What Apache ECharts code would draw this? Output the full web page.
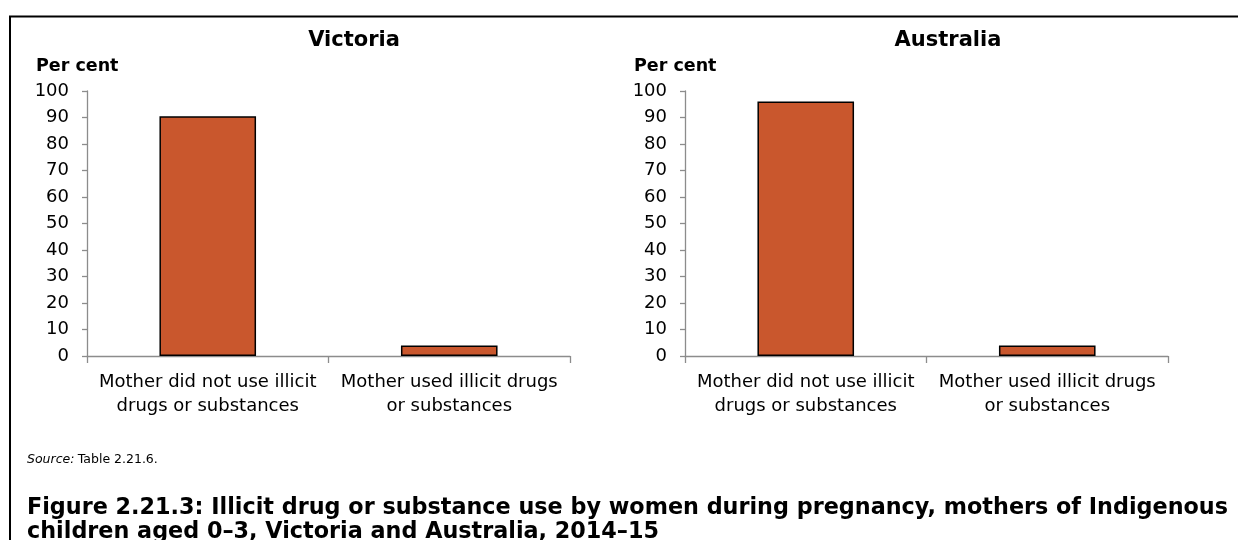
<!DOCTYPE html>
<html>
<head>
<meta charset="utf-8">
<script src="https://cdn.jsdelivr.net/npm/echarts@6/dist/echarts.min.js"></script>
<style>html,body{margin:0;padding:0;background:#fff}#c{width:1238px;height:540px}</style>
</head>
<body>
<div id="c"></div>
<script>
var categories = ['Mother did not use illicit\ndrugs or substances', 'Mother used illicit drugs\nor substances'];
var victoriaValues = [90.5, 4];
var australiaValues = [96, 4];
var panelTitles = ['Victoria', 'Australia'];
var yTicks = {min: 0, max: 100, interval: 10};
var yAxisName = 'Per cent';
var sourceLabel = 'Source:';
var sourceText = 'Table 2.21.6.';
var captionLines = ['Figure 2.21.3: Illicit drug or substance use by women during pregnancy, mothers of Indigenous', 'children aged 0\u20133, Victoria and Australia, 2014\u201315'];

var FONT = '"DejaVu Sans", "Liberation Sans", Arial, sans-serif';
var axisGray = '#8c8c8c';
var barColor = '#C9572D';

function xAxis(gi) {
  return {
    type: 'category', gridIndex: gi, data: categories,
    axisLine: {lineStyle: {color: axisGray, width: 1.3}},
    axisTick: {show: true, length: 7, lineStyle: {color: axisGray, width: 1.3}},
    axisLabel: {color: '#000', fontFamily: FONT, fontSize: 18, lineHeight: 24, margin: 14, interval: 0}
  };
}
function yAxis(gi) {
  return {
    type: 'value', gridIndex: gi, min: yTicks.min, max: yTicks.max, interval: yTicks.interval,
    axisLine: {show: true, lineStyle: {color: axisGray, width: 1.3}},
    axisTick: {show: true, length: 5, lineStyle: {color: axisGray, width: 1.3}},
    splitLine: {show: false},
    axisLabel: {color: '#000', fontFamily: FONT, fontSize: 18, margin: 18}
  };
}
function barSeries(i, vals) {
  return {
    type: 'bar', xAxisIndex: i, yAxisIndex: i, data: vals, barWidth: '40%',
    itemStyle: {color: barColor, borderColor: '#000', borderWidth: 1.5},
    silent: true
  };
}

var chart = echarts.init(document.getElementById('c'), null, {renderer: 'canvas'});
chart.setOption({
  animation: false,
  backgroundColor: '#fff',
  grid: [
    {left: 87, right: 668, top: 91, bottom: 184, containLabel: false},
    {left: 685, right: 70, top: 91, bottom: 184, containLabel: false}
  ],
  xAxis: [xAxis(0), xAxis(1)],
  yAxis: [yAxis(0), yAxis(1)],
  series: [barSeries(0, victoriaValues), barSeries(1, australiaValues)],
  graphic: [
    {type: 'line', shape: {x1: 9, y1: 16.5, x2: 1238, y2: 16.5}, style: {stroke: '#000', lineWidth: 2}},
    {type: 'line', shape: {x1: 10, y1: 16, x2: 10, y2: 540}, style: {stroke: '#000', lineWidth: 2}},
    {type: 'text', x: 354, y: 41, style: {text: panelTitles[0], font: 'bold 21px ' + FONT, fill: '#000', align: 'center', verticalAlign: 'middle'}},
    {type: 'text', x: 948, y: 41, style: {text: panelTitles[1], font: 'bold 21px ' + FONT, fill: '#000', align: 'center', verticalAlign: 'middle'}},
    {type: 'text', x: 36, y: 66, style: {text: yAxisName, font: 'bold 17.5px ' + FONT, fill: '#000', verticalAlign: 'middle'}},
    {type: 'text', x: 634, y: 66, style: {text: yAxisName, font: 'bold 17.5px ' + FONT, fill: '#000', verticalAlign: 'middle'}},
    {type: 'text', x: 27, y: 460, style: {rich: {i: {fontFamily: FONT, fontSize: 12.5, fontStyle: 'italic', fill: '#000'}, n: {fontFamily: FONT, fontSize: 12.5, fill: '#000'}}, text: '{i|' + sourceLabel + '} {n|' + sourceText + '}', verticalAlign: 'middle'}},
    {type: 'text', x: 27, y: 496, style: {text: captionLines.join('\n'), font: 'bold 22.3px ' + FONT, lineHeight: 24, fill: '#000', verticalAlign: 'top'}}
  ]
});
</script>
</body>
</html>
